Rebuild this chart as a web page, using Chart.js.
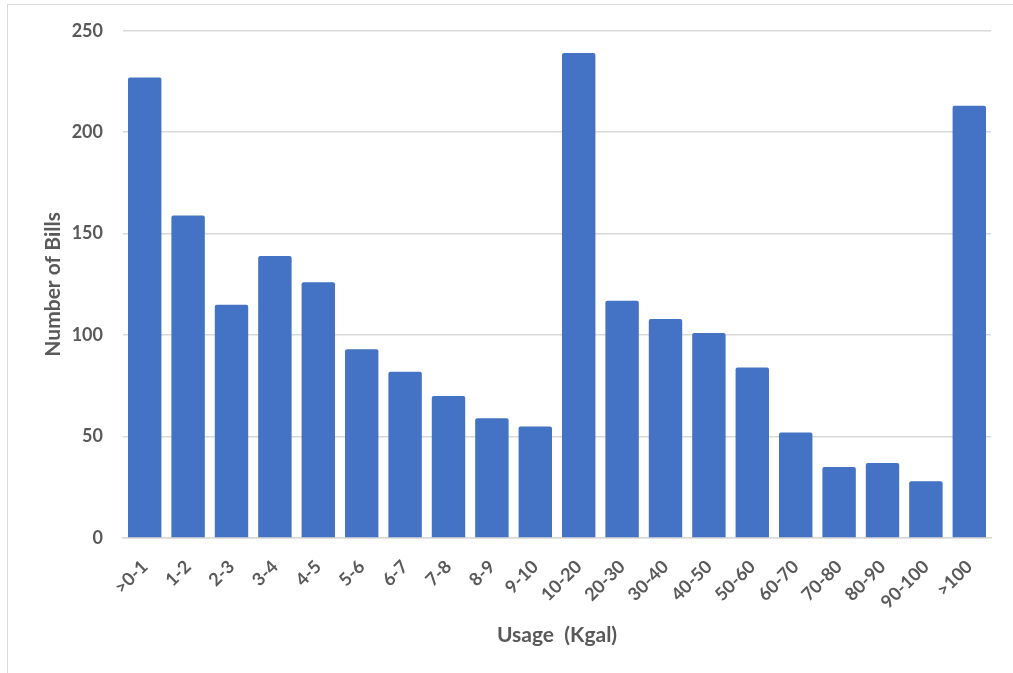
<!DOCTYPE html>
<html>
<head>
<meta charset="utf-8">
<title>Number of Bills by Usage</title>
<script src="https://cdn.jsdelivr.net/npm/chart.js@4"></script>
<style>
  html, body { margin: 0; padding: 0; background: #ffffff; overflow: hidden; }
  #frame {
    position: absolute; left: 7px; top: 4px; width: 1200px; height: 900px;
    border: 1px solid #d9d9d9; box-sizing: border-box;
  }
  #chart { position: absolute; left: 0; top: 0; }
</style>
</head>
<body>
<div id="frame"></div>
<canvas id="chart" width="1013" height="673"></canvas>
<script>
// Usage bins (thousand gallons) and the count of bills in each bin
const usageBins = [">0-1", "1-2", "2-3", "3-4", "4-5", "5-6", "6-7", "7-8", "8-9", "9-10",
                   "10-20", "20-30", "30-40", "40-50", "50-60", "60-70", "70-80", "80-90", "90-100", ">100"];
const billCounts = [227, 159, 115, 139, 126, 93, 82, 70, 59, 55,
                    239, 117, 108, 101, 84, 52, 35, 37, 28, 213];
const yTicks = [0, 50, 100, 150, 200, 250];

const textGray = "#595959";
const gridGray = "#d9d9d9";
const barBlue = "#4472c4";
const fontFamily = "Lato, 'Open Sans', sans-serif";

new Chart(document.getElementById("chart"), {
  type: "bar",
  data: {
    labels: usageBins,
    datasets: [{
      label: "Number of Bills",
      data: billCounts,
      backgroundColor: barBlue,
      borderWidth: 0,
      borderRadius: { topLeft: 2, topRight: 2 },
      barPercentage: 0.77,
      categoryPercentage: 1.0
    }]
  },
  options: {
    responsive: false,
    animation: false,
    devicePixelRatio: 1,
    layout: { padding: { left: 41, right: 22, top: 28, bottom: 25 } },
    plugins: {
      legend: { display: false },
      tooltip: { enabled: false }
    },
    scales: {
      x: {
        z: 1,
        grid: { display: false, drawTicks: false },
        border: { display: true, color: gridGray, width: 1.5 },
        ticks: {
          color: textGray,
          font: { family: fontFamily, size: 18, weight: "bold" },
          minRotation: 45,
          maxRotation: 45,
          autoSkip: false,
          padding: 18
        },
        title: {
          display: true,
          text: "Usage  (Kgal)",
          color: textGray,
          font: { family: fontFamily, size: 21, weight: "bold" },
          padding: { top: 0, bottom: 0 }
        },
        afterFit: (scale) => { scale.height = 110; }
      },
      y: {
        min: 0,
        max: 250,
        afterBuildTicks: (scale) => { scale.ticks = yTicks.map(v => ({ value: v })); },
        grid: { color: gridGray, lineWidth: 1.5, drawTicks: false },
        border: { display: false },
        ticks: {
          color: textGray,
          font: { family: fontFamily, size: 18, weight: "bold" },
          padding: 20
        },
        title: {
          display: true,
          text: "Number of Bills",
          color: textGray,
          font: { family: fontFamily, size: 21, weight: "bold" },
          padding: { top: 0, bottom: 0 }
        },
        afterFit: (scale) => { scale.width = 82; }
      }
    }
  }
});
</script>
</body>
</html>
